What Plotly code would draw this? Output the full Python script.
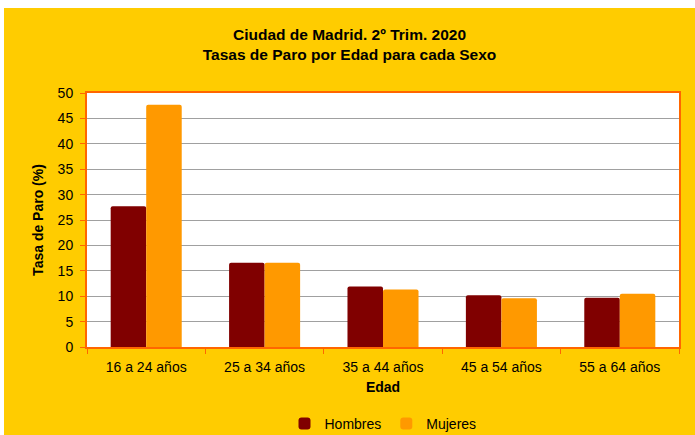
import plotly.graph_objects as go

categories = ["16 a 24 años", "25 a 34 años", "35 a 44 años", "45 a 54 años", "55 a 64 años"]
hombres = [27.7, 16.6, 11.9, 10.2, 9.7]
mujeres = [47.7, 16.6, 11.3, 9.6, 10.5]
yticks = [0, 5, 10, 15, 20, 25, 30, 35, 40, 45, 50]

# figure placed at (4, 8) in the page
W, H = 691, 427
ML, MR, MT, MB = 83, 16, 85, 88
PW, PH = W - ML - MR, H - MT - MB

def px_y(y):
    return 1 - (y - MT) / PH

FONT = "Liberation Sans, Arial, sans-serif"

fig = go.Figure()
fig.add_trace(go.Bar(name="Hombres", x=categories, y=hombres,
                     marker=dict(color="#800000", line=dict(width=0), cornerradius=2)))
fig.add_trace(go.Bar(name="Mujeres", x=categories, y=mujeres,
                     marker=dict(color="#FF9900", line=dict(width=0), cornerradius=2)))

fig.update_layout(
    width=W, height=H,
    margin=dict(l=ML, r=MR, t=MT, b=MB, pad=0, autoexpand=False),
    paper_bgcolor="#FFCC00",
    plot_bgcolor="#FFFFFF",
    barmode="group",
    bargap=0.40,
    bargroupgap=0,
    font=dict(family=FONT, size=14, color="#000000"),
    title=dict(
        text="<b>Ciudad de Madrid. 2º Trim. 2020<br>Tasas de Paro por Edad para cada Sexo</b>",
        x=0.5, xanchor="center", y=1 - 31.5 / H, yanchor="middle",
        font=dict(family=FONT, size=15.5, color="#000000"),
    ),
    legend=dict(orientation="h", x=0.5, xanchor="center", y=px_y(416), yanchor="middle",
                font=dict(size=14), bgcolor="rgba(0,0,0,0)", itemwidth=30, tracegroupgap=0),
    showlegend=True,
)

fig.update_xaxes(
    title=dict(text="<b>Edad</b>", font=dict(size=14), standoff=8),
    showline=True, linecolor="#FF6600", linewidth=2, mirror=True,
    ticks="outside", tickson="boundaries", ticklen=5, tickcolor="#FF6600", tickwidth=1,
    ticklabelstandoff=6,
    showgrid=False, tickfont=dict(size=14),
)
fig.update_yaxes(
    title=dict(text="<b>Tasa de Paro (%)</b>", font=dict(size=14), standoff=11),
    range=[0, 50], tickvals=yticks, ticktext=[str(v) for v in yticks],
    showline=True, linecolor="#FF6600", linewidth=2, mirror=True,
    ticks="outside", ticklen=5, tickcolor="#FF6600", tickwidth=1,
    ticklabelstandoff=4,
    showgrid=True, gridcolor="#A0A0A0", gridwidth=1, zeroline=False,
    tickfont=dict(size=14),
)

fig.write_html("out.html", post_script="document.body.style.margin='8px 0 0 4px';")
